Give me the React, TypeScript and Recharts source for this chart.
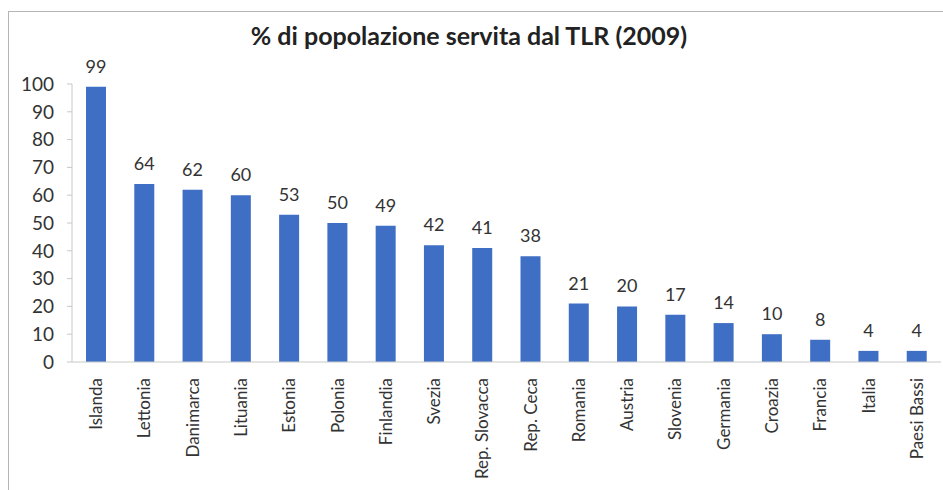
import { BarChart, Bar, XAxis, YAxis, LabelList } from 'recharts';

const countries = [
  'Islanda', 'Lettonia', 'Danimarca', 'Lituania', 'Estonia', 'Polonia', 'Finlandia', 'Svezia',
  'Rep. Slovacca', 'Rep. Ceca', 'Romania', 'Austria', 'Slovenia', 'Germania', 'Croazia', 'Francia',
  'Italia', 'Paesi Bassi',
];
const coverage = [99, 64, 62, 60, 53, 50, 49, 42, 41, 38, 21, 20, 17, 14, 10, 8, 4, 4];
const yTicks = [0, 10, 20, 30, 40, 50, 60, 70, 80, 90, 100];

const data = countries.map((name, i) => ({ name, value: coverage[i] }));

const FONT = 'Lato, "Open Sans", sans-serif';

if (typeof document !== 'undefined') document.body.style.overflow = 'hidden';

const RotatedTick = (props: any) => {
  const { x, y, payload } = props;
  return (
    <text
      x={x}
      y={y}
      transform={`rotate(-90, ${x}, ${y})`}
      textAnchor="end"
      dy={6}
      fontSize={17}
      fill="#333"
      fontFamily={FONT}
    >
      {payload.value}
    </text>
  );
};

export default function App() {
  return (
    <div
      style={{
        position: 'absolute',
        left: 8,
        top: 11,
        width: 940,
        height: 490,
        border: '1px solid #b5b5b5',
        background: '#fff',
        boxSizing: 'border-box',
      }}
    >
      <div
        style={{
          position: 'absolute',
          left: 0,
          width: 920,
          top: 8,
          textAlign: 'center',
          fontFamily: FONT,
          fontWeight: 700,
          fontSize: 25,
          color: '#222',
        }}
      >
        % di popolazione servita dal TLR (2009)
      </div>
      <BarChart
        width={935}
        height={479}
        data={data}
        margin={{ top: 72, right: 3, left: 0, bottom: 9 }}
      >
        <YAxis
          width={63}
          domain={[0, 100]}
          ticks={yTicks}
          interval={0}
          tickSize={5}
          tickMargin={13}
          tick={{ fontSize: 19, fill: '#333', fontFamily: FONT }}
          axisLine={{ stroke: '#c8c8c8' }}
          tickLine={{ stroke: '#c8c8c8' }}
        />
        <XAxis
          dataKey="name"
          interval={0}
          height={120}
          tick={<RotatedTick />}
          tickLine={false}
          tickMargin={10}
          axisLine={{ stroke: '#c8c8c8' }}
        />
        <Bar dataKey="value" fill="#3F6EC5" barSize={20} isAnimationActive={false}>
          <LabelList
            dataKey="value"
            position="top"
            offset={14}
            fontSize={18}
            fill="#333"
            fontFamily={FONT}
          />
        </Bar>
      </BarChart>
    </div>
  );
}
